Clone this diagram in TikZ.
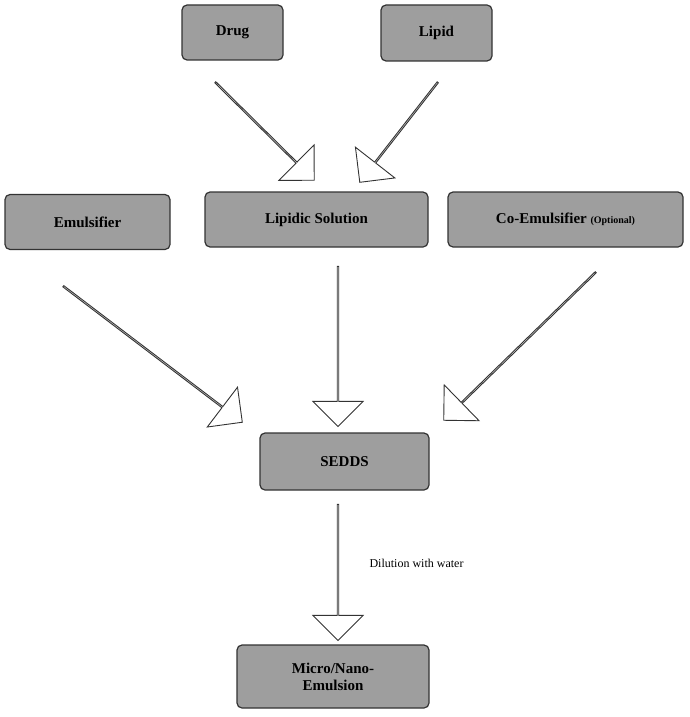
\documentclass[tikz,border=0pt]{standalone}
\usepackage{fontspec}
\setmainfont{Liberation Serif}
\usetikzlibrary{shapes.arrows,calc}
\begin{document}
\begin{tikzpicture}[x=1pt,y=-1pt,
  box/.style={draw=black!80,line width=1.2pt,fill=black!38,rounded corners=5pt,inner sep=0pt,font=\bfseries\fontsize{15}{17}\selectfont,align=center},
  barrow/.style={draw=black!80,line width=0.9pt,fill=white,shape=single arrow,minimum width=50pt,single arrow head extend=14pt,single arrow head indent=0pt,inner sep=0pt,shape border uses incircle=false}]
\useasboundingbox (0,0) rectangle (690,717);
\newcommand{\blockarr}[2]{\path let \p1=(#1), \p2=(#2), \n1={atan2(\y2-\y1,\x2-\x1)}, \n2={veclen(\x2-\x1,\y2-\y1)} in node[barrow,minimum height=\n2,rotate=\n1] at ($(#1)!0.5!(#2)$) {};}
\node[box,minimum width=101pt,minimum height=55pt] (drug) at (232.5,32.5) {Drug};
\node[box,minimum width=111pt,minimum height=56pt] (lipid) at (436.5,33) {Lipid};
\node[box,minimum width=165pt,minimum height=55pt] (emul) at (87.5,222) {Emulsifier};
\node[box,minimum width=223pt,minimum height=55pt] (lsol) at (316.5,219.5) {Lipidic Solution};
\node[box,minimum width=235pt,minimum height=55pt] (coem) at (565.5,219.5) {Co-Emulsifier {\fontsize{10}{12}\selectfont(Optional)}};
\node[box,minimum width=169pt,minimum height=57pt] (sedds) at (344.5,461.5) {SEDDS};
\node[box,minimum width=192pt,minimum height=63pt] (micro) at (333,676.5) {Micro/Nano-\\Emulsion};
\coordinate (a1) at (215,82); \coordinate (b1) at (314,180);
\coordinate (a2) at (438,82); \coordinate (b2) at (360,182);
\coordinate (a3) at (63,286); \coordinate (b3) at (242,422);
\coordinate (a4) at (338,266); \coordinate (b4) at (338,426);
\coordinate (a5) at (596,272); \coordinate (b5) at (444,420);
\coordinate (a6) at (338,504); \coordinate (b6) at (338,640);
\blockarr{a1}{b1}
\blockarr{a2}{b2}
\blockarr{a3}{b3}
\blockarr{a4}{b4}
\blockarr{a5}{b5}
\blockarr{a6}{b6}
\node[font=\fontsize{12}{14}\selectfont,anchor=west] (dil) at (366,563) {Dilution with water};
\end{tikzpicture}
\end{document}
